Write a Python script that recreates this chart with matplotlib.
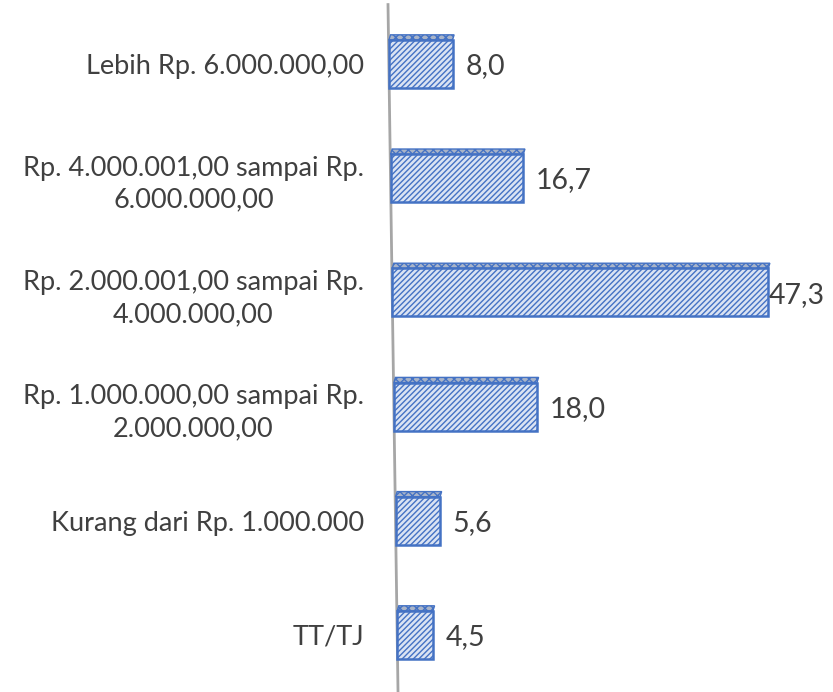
import matplotlib.pyplot as plt
import numpy as np

categories = ["TT/TJ",
              "Kurang dari Rp. 1.000.000",
              "Rp. 1.000.000,00 sampai Rp.\n2.000.000,00",
              "Rp. 2.000.001,00 sampai Rp.\n4.000.000,00",
              "Rp. 4.000.001,00 sampai Rp.\n6.000.000,00",
              "Lebih Rp. 6.000.000,00"]
values = [4.5, 5.6, 18.0, 47.3, 16.7, 8.0]
value_labels = ["4,5", "5,6", "18,0", "47,3", "16,7", "8,0"]

plt.rcParams['font.family'] = ['Lato', 'DejaVu Sans']

blue = "#4472C4"
fill = "#DAE3F3"
text_col = "#404040"

fig = plt.figure(figsize=(8.33, 6.92), dpi=100)
ax = fig.add_axes([388 / 833, 0, 445 / 833, 1])

ymin, ymax = -0.5, 5.56
xmax = 445 / 7.95
lean = 1.26          # axis shift (data units) from top to bottom, fake perspective
pos = np.arange(len(values))
lefts = lean * (ymax - pos) / (ymax - ymin)
h = 0.42
depth = 0.045

ax.barh(pos, values, height=h, left=lefts, color=fill, edgecolor=blue,
        linewidth=1.8, hatch="//////", zorder=3)

# thin top face of each 3d bar
for p, v, l in zip(pos, values, lefts):
    top = p + h / 2
    ax.fill([l, l + 0.2, l + v + 0.2, l + v], [top, top + depth, top + depth, top],
            facecolor="#A9B4C8", edgecolor=blue, linewidth=1.0, hatch="xxxx", zorder=2)

# value labels
for p, v, l, s in zip(pos, values, lefts, value_labels):
    off = 0.05 if v > 40 else 1.6
    ax.text(l + v + off, p - 0.02, s, ha="left", va="center", fontsize=20.5,
            color=text_col, zorder=4)

# slanted axis line
ax.plot([0, lean], [ymax - 0.04, ymin], color="#A6A6A6", lw=2, zorder=1, clip_on=False)

ax.set_xlim(0, xmax)
ax.set_ylim(ymin, ymax)
ax.set_yticks(pos)
ax.set_yticklabels(categories, fontsize=19.5, color=text_col, ma="center",
                   linespacing=1.35)
ax.tick_params(axis="y", length=0, pad=0)
ax.set_xticks([])
for s in ax.spines.values():
    s.set_visible(False)

# category labels: right edge a little left of the axis
for t in ax.get_yticklabels():
    t.set_ha("right")
    t.set_x(-24 / 445)

fig.savefig("out.png", dpi=100)
